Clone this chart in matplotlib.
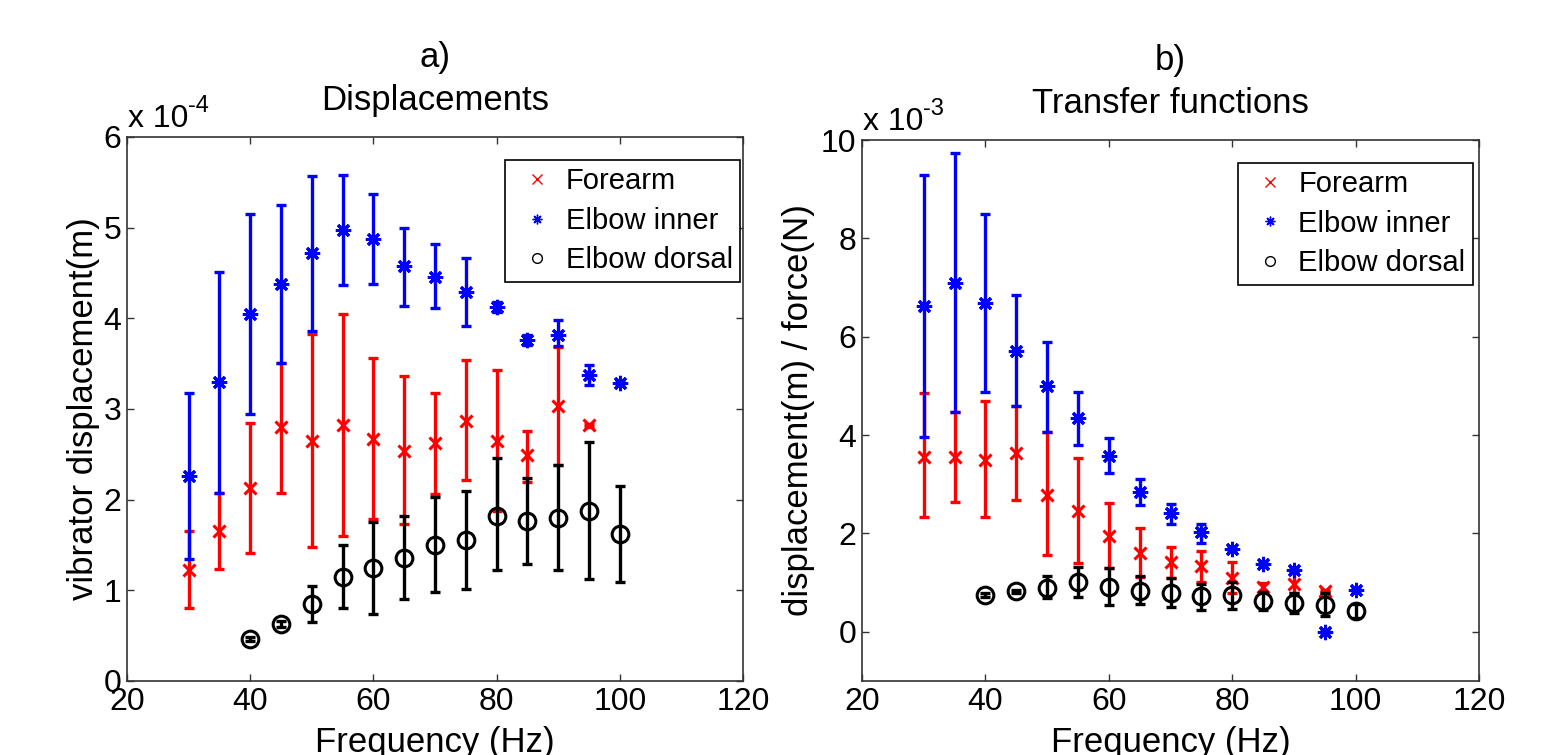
import numpy as np
import matplotlib
matplotlib.use('Agg')
from matplotlib import pyplot as plt
from matplotlib.lines import Line2D

plt.rcParams['font.family'] = ['Liberation Sans', 'DejaVu Sans']

# Frequencies (Hz)
freq_fore = [30, 35, 40, 45, 50, 55, 60, 65, 70, 75, 80, 85, 90, 95]
freq_inner = [30, 35, 40, 45, 50, 55, 60, 65, 70, 75, 80, 85, 90, 95, 100]
freq_dorsal = [40, 45, 50, 55, 60, 65, 70, 75, 80, 85, 90, 95, 100]

# a) displacements, in units of 1e-4 m
fore_disp = [1.22, 1.65, 2.13, 2.80, 2.65, 2.82, 2.67, 2.54, 2.62, 2.87, 2.65, 2.49, 3.03, 2.82]
fore_disp_lo = [0.80, 1.23, 1.41, 2.07, 1.48, 1.60, 1.79, 1.73, 2.06, 2.22, 1.88, 2.20, 2.38, 2.80]
fore_disp_hi = [1.65, 2.07, 2.85, 3.51, 3.83, 4.05, 3.56, 3.36, 3.18, 3.54, 3.43, 2.76, 3.68, 2.84]

inner_disp = [2.26, 3.30, 4.05, 4.38, 4.72, 4.97, 4.87, 4.58, 4.46, 4.29, 4.13, 3.76, 3.82, 3.37, 3.29]
inner_disp_lo = [1.35, 2.07, 2.95, 3.51, 3.86, 4.37, 4.38, 4.14, 4.11, 3.91, 4.07, 3.71, 3.69, 3.27, 3.27]
inner_disp_hi = [3.18, 4.51, 5.15, 5.25, 5.57, 5.58, 5.37, 5.00, 4.82, 4.67, 4.18, 3.82, 3.98, 3.48, 3.31]

dorsal_disp = [0.46, 0.63, 0.85, 1.15, 1.25, 1.36, 1.50, 1.55, 1.82, 1.76, 1.80, 1.87, 1.62]
dorsal_disp_lo = [0.44, 0.60, 0.65, 0.80, 0.74, 0.90, 0.98, 1.01, 1.22, 1.29, 1.22, 1.12, 1.09]
dorsal_disp_hi = [0.48, 0.66, 1.05, 1.50, 1.75, 1.82, 2.03, 2.10, 2.46, 2.24, 2.38, 2.64, 2.15]

# b) transfer functions, in units of 1e-3 m/N
fore_tf = [3.56, 3.55, 3.49, 3.64, 2.79, 2.45, 1.94, 1.60, 1.41, 1.34, 1.10, 0.92, 0.98, 0.83]
fore_tf_lo = [2.33, 2.63, 2.33, 2.69, 1.56, 1.40, 1.29, 1.11, 1.10, 1.02, 0.78, 0.81, 0.78, 0.80]
fore_tf_hi = [4.85, 4.47, 4.69, 4.60, 4.07, 3.53, 2.62, 2.12, 1.72, 1.65, 1.42, 1.00, 1.19, 0.86]

inner_tf = [6.63, 7.09, 6.68, 5.71, 5.00, 4.34, 3.58, 2.85, 2.41, 2.02, 1.69, 1.38, 1.25, 0.00, 0.86]
inner_tf_lo = [3.96, 4.47, 4.87, 4.60, 4.07, 3.80, 3.22, 2.58, 2.19, 1.81, 1.66, 1.35, 1.21, -0.03, 0.83]
inner_tf_hi = [9.29, 9.73, 8.49, 6.85, 5.89, 4.87, 3.95, 3.11, 2.60, 2.20, 1.72, 1.41, 1.29, 0.03, 0.89]

dorsal_tf = [0.75, 0.82, 0.89, 1.02, 0.91, 0.84, 0.79, 0.73, 0.75, 0.63, 0.59, 0.54, 0.43]
dorsal_tf_lo = [0.71, 0.78, 0.68, 0.71, 0.55, 0.56, 0.51, 0.45, 0.47, 0.45, 0.39, 0.33, 0.29]
dorsal_tf_hi = [0.79, 0.86, 1.13, 1.31, 1.29, 1.14, 1.10, 0.98, 1.01, 0.81, 0.78, 0.78, 0.56]

labels = ['Forearm', 'Elbow inner', 'Elbow dorsal']
colors = ['#ff0000', '#0000ff', 'black']
markers = ['x', (8, 2, 0), 'o']
msizes = [8, 11, 12]

fig = plt.figure(figsize=(15.51, 7.55), dpi=100)
W, H = 1551.0, 755.0
ax1 = fig.add_axes([127 / W, (H - 681) / H, 616 / W, 544 / H])
ax2 = fig.add_axes([862 / W, (H - 681) / H, 617 / W, 541 / H])


def errs(v, lo, hi):
    v = np.array(v)
    return [v - np.array(lo), np.array(hi) - v]


def panel(ax, series, title, ylabel, ylim, yticks, expo, ylab_x, leg_anchor):
    # error bars first, then markers on top (red, blue, black order)
    for (x, v, lo, hi), c, m, ms in zip(series, colors, markers, msizes):
        ax.errorbar(x, v, yerr=errs(v, lo, hi), fmt='none', ecolor=c,
                    elinewidth=2.4, capsize=3.6, capthick=2.4)
        ax.plot(x, v, linestyle='none', marker=m, markersize=ms, color=c,
                markerfacecolor='none', markeredgecolor=c, markeredgewidth=2.2)
    ax.set_xlim(20, 120)
    ax.set_ylim(*ylim)
    ax.set_xticks([20, 40, 60, 80, 100, 120])
    ax.set_yticks(yticks)
    ax.tick_params(direction='in', length=5, width=1, top=True, right=True,
                   labelsize=23, pad=4, color='#333333')
    for s in ax.spines.values():
        s.set_color('#333333')
        s.set_linewidth(1.2)
    ax.set_title(title, fontsize=25, pad=19.5, linespacing=1.38)
    ax.set_xlabel('Frequency (Hz)', fontsize=25)
    ax.xaxis.set_label_coords(0.5, -0.083)
    ax.set_ylabel(ylabel, fontsize=25)
    ax.yaxis.set_label_coords(ylab_x, 0.5)
    # MATLAB style exponent label above the y axis
    ax.annotate('x 10', xy=(0, 1), xycoords='axes fraction', xytext=(1, 7),
                textcoords='offset points', fontsize=23, ha='left', va='baseline')
    ax.annotate(str(expo), xy=(0, 1), xycoords='axes fraction', xytext=(44, 18),
                textcoords='offset points', fontsize=17, ha='left', va='baseline')
    handles = [Line2D([], [], linestyle='none', marker=m, color=c, markersize=7,
                      markerfacecolor='none', markeredgewidth=1.0)
               for c, m in zip(colors, markers)]
    leg = ax.legend(handles, labels, loc='upper right', bbox_to_anchor=leg_anchor,
                    fontsize=21, frameon=True, fancybox=False, framealpha=1,
                    edgecolor='black', borderpad=0.25, labelspacing=0.4,
                    handlelength=1.66, handletextpad=0.16, borderaxespad=0)
    leg.get_frame().set_linewidth(1.2)


panel(ax1,
      [(freq_fore, fore_disp, fore_disp_lo, fore_disp_hi),
       (freq_inner, inner_disp, inner_disp_lo, inner_disp_hi),
       (freq_dorsal, dorsal_disp, dorsal_disp_lo, dorsal_disp_hi)],
      'a)\nDisplacements', 'vibrator displacement(m)', (0, 6),
      [0, 1, 2, 3, 4, 5, 6], -4, -0.044, (0.995, 0.958))

panel(ax2,
      [(freq_fore, fore_tf, fore_tf_lo, fore_tf_hi),
       (freq_inner, inner_tf, inner_tf_lo, inner_tf_hi),
       (freq_dorsal, dorsal_tf, dorsal_tf_lo, dorsal_tf_hi)],
      'b)\nTransfer functions', 'displacement(m) / force(N)', (-1, 10),
      [0, 2, 4, 6, 8, 10], -3, -0.076, (0.99, 0.958))

fig.savefig('out.png', dpi=100)
